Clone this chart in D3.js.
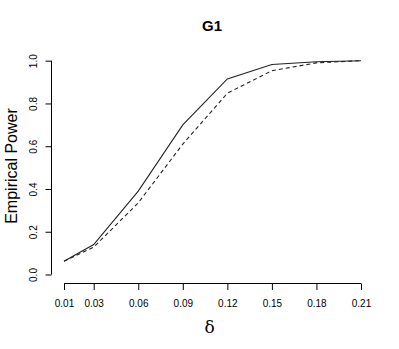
<!DOCTYPE html>
<html><head><meta charset="utf-8">
<script src="https://cdn.jsdelivr.net/npm/d3@7"></script>
<style>body{margin:0;background:#fff}svg{display:block}</style>
</head><body>
<script>
const deltas = [0.01, 0.03, 0.06, 0.09, 0.12, 0.15, 0.18, 0.21];
const powerSolid = [0.062, 0.14, 0.39, 0.70, 0.915, 0.982, 0.995, 1.0];
const powerDashed = [0.062, 0.128, 0.335, 0.61, 0.848, 0.953, 0.99, 1.0];
const yTicks = [0, 0.2, 0.4, 0.6, 0.8, 1.0];
const xTickLabels = ["0.01","0.03","0.06","0.09","0.12","0.15","0.18","0.21"];
const title = "G1", xLabel = "δ", yLabel = "Empirical Power";

const W = 399, H = 349;
const svg = d3.select("body").append("svg").attr("width", W).attr("height", H);
const x = d3.scaleLinear().domain([0.01, 0.21]).range([64, 361]);
const y = d3.scaleLinear().domain([0, 1]).range([274.5, 60.7]);
const font = "'Liberation Sans', Arial, Helvetica, sans-serif";

// X axis
const xa = svg.append("g").attr("transform", "translate(0,283.5)")
  .call(d3.axisBottom(x).tickValues(deltas).tickFormat((d,i)=>xTickLabels[i]).tickSize(6.5).tickPadding(9.5));
xa.select(".domain").attr("d", `M${x(0.01)},0H${x(0.21)}`).attr("stroke","#000");
xa.selectAll("text").attr("font-family", font).attr("font-size", 10).attr("fill","#000");
xa.selectAll("line").attr("stroke","#000");

// Y axis
const ya = svg.append("g").attr("transform", "translate(51.5,0)")
  .call(d3.axisLeft(y).tickValues(yTicks).tickFormat(d3.format(".1f")).tickSize(6).tickPadding(0));
ya.select(".domain").attr("d", `M0,${y(0)}V${y(1)}`).attr("stroke","#000");
ya.selectAll("line").attr("stroke","#000");
ya.selectAll("text").attr("font-family", font).attr("font-size", 10).attr("fill","#000")
  .attr("text-anchor","middle").attr("dy", null).attr("x", null)
  .attr("transform", "translate(-18.2,0) rotate(-90)").attr("dominant-baseline","central");

const line = d3.line().x((d,i)=>x(deltas[i])).y(d=>y(d));
svg.append("path").datum(powerSolid).attr("d", line).attr("fill","none").attr("stroke","#222").attr("stroke-width",1.1);
svg.append("path").datum(powerDashed).attr("d", line).attr("fill","none").attr("stroke","#222").attr("stroke-width",1.1).attr("stroke-dasharray","4,3");

svg.append("text").attr("x", 212).attr("y", 31).attr("text-anchor","middle")
  .attr("font-family", font).attr("font-weight","bold").attr("font-size", 15).text(title);
svg.append("text").attr("x", 209.5).attr("y", 333).attr("text-anchor","middle")
  .attr("font-family", "'DejaVu Serif','Liberation Serif', serif").attr("font-size", 17).text(xLabel);
svg.append("text").attr("transform", "translate(17,166) rotate(-90)").attr("text-anchor","middle")
  .attr("font-family", font).attr("font-size", 16).text(yLabel);
</script>
</body></html>
